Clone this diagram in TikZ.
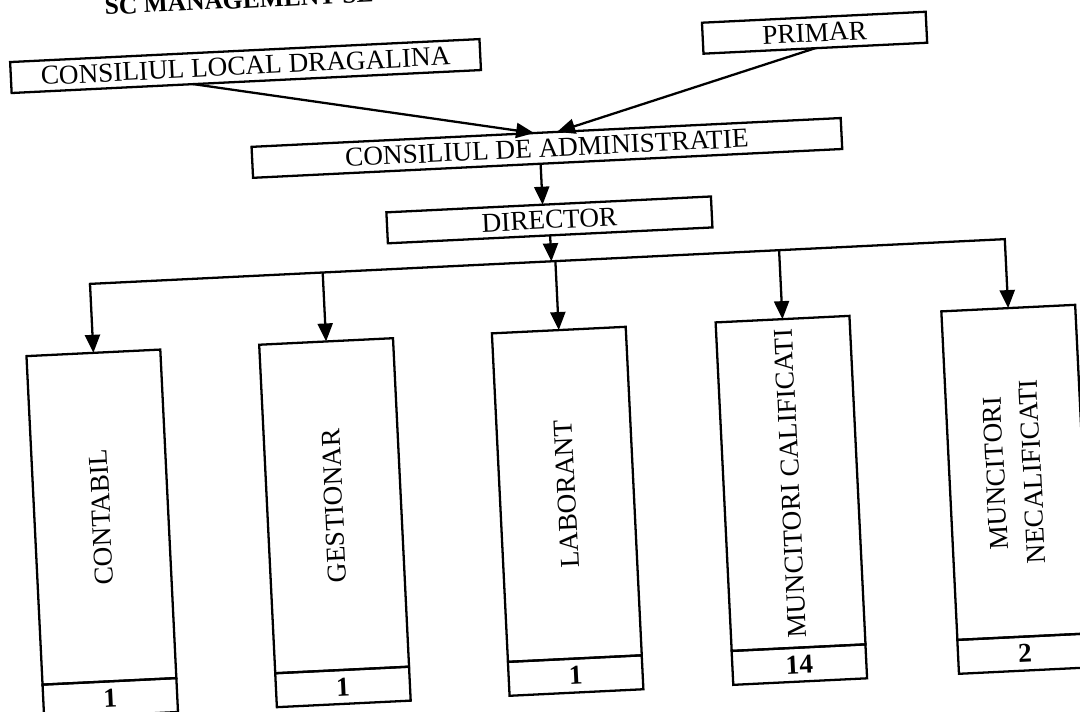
\documentclass[tikz,border=0pt]{standalone}
\usepackage{fontspec}
\setmainfont{Liberation Serif}
\usetikzlibrary{arrows.meta, positioning}

\begin{document}
\begin{tikzpicture}[x=0.02cm, y=-0.02cm,
    box/.style={draw, line width=1.3pt, outer sep=0pt, inner sep=0pt, minimum height=0.62cm,
        font=\fontsize{15.5}{18.5}\selectfont, transform shape},
    post/.style={box, minimum width=2.68cm, minimum height=6.58cm},
    count/.style={box, minimum width=2.68cm, minimum height=0.68cm, font=\fontsize{15.5}{18.5}\selectfont\bfseries},
    link/.style={line width=1.3pt},
    arr/.style={link, -{Triangle[length=0.36cm, width=0.3cm]}}]
    \useasboundingbox (0,0) rectangle (1080,711);
    \fill[white] (0,0) rectangle (1080,711);
    \clip (0,0) rectangle (1080,711);

    % the scanned page sits a little askew
    \begin{scope}[rotate around={2.8:(540,355)}]
    \node[anchor=base west, inner sep=0pt, font=\fontsize{14.5}{17}\selectfont\bfseries, transform shape]
        (title) at (122,-6) {SC MANAGEMENT SE};

    \node[box, minimum width=9.4cm] (local) at (260,52) {CONSILIUL LOCAL DRAGALINA};
    \node[box, minimum width=4.48cm] (primar) at (830,46.5) {PRIMAR};
    \node[box, minimum width=11.8cm] (admin) at (557,148.5) {CONSILIUL DE ADMINISTRATIE};
    \node[box, minimum width=6.5cm] (director) at (556,220.5) {DIRECTOR};

    \draw[arr] ([xshift=-1.06cm]local.south) -- ([xshift=-0.24cm]admin.north);
    \draw[arr] (primar.south) -- ([xshift=0.22cm]admin.north);
    \draw[arr] ([xshift=-0.14cm]admin.south) -- ([xshift=-0.12cm]director.north);

    % posts
    \node[post] (c1) at (94,495.5) {\rotatebox{90}{CONTABIL}};
    \node[post] (c2) at (327,495.5) {\rotatebox{90}{GESTIONAR}};
    \node[post] (c3) at (560,495.5) {\rotatebox{90}{LABORANT}};
    \node[post] (c4) at (784,495.5) {\rotatebox{90}{MUNCITORI CALIFICATI}};
    \node[post] (c5) at (1010,495.5)
        {\rotatebox{90}{\begin{tabular}{@{}c@{}}MUNCITORI\\[2.5pt]NECALIFICATI\end{tabular}}};

    \node[count, below=0pt of c1] (n1) {1};
    \node[count, below=0pt of c2] (n2) {1};
    \node[count, below=0pt of c3] (n3) {1};
    \node[count, below=0pt of c4] (n4) {14};
    \node[count, below=0pt of c5] (n5) {2};

    \coordinate (bus) at (556,262);
    \draw[arr] (director.south) -- (bus);
    \draw[link, line cap=rect] (c1.north |- bus) -- (c5.north |- bus);
    \foreach \n in {c1,c2,c3,c4,c5}
        \draw[arr] (\n.north |- bus) -- (\n.north);
    \end{scope}
\end{tikzpicture}
\end{document}
